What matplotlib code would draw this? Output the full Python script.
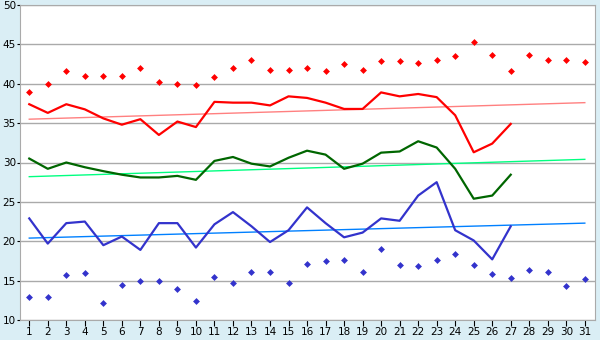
import numpy as np
import matplotlib
matplotlib.use('Agg')
import matplotlib.pyplot as plt

days = list(range(1, 32))

# record highs (diamonds) and highs (line)
red_pts = [38.9, 40.0, 41.6, 41.0, 41.0, 41.0, 42.0, 40.2, 40.0, 39.9,
           40.8, 42.0, 43.0, 41.8, 41.8, 42.0, 41.6, 42.5, 41.8, 42.85,
           42.85, 42.6, 43.0, 43.5, 45.3, 43.7, 41.6, 43.6, 43.0, 43.0, 42.7]
red_line = [37.4, 36.3, 37.4, 36.75, 35.6, 34.8, 35.5, 33.5, 35.2, 34.5,
            37.7, 37.6, 37.6, 37.25, 38.4, 38.2, 37.6, 36.8, 36.8, 38.9,
            38.4, 38.7, 38.3, 36.0, 31.3, 32.4, 34.9]
red_trend = [35.5, 37.6]

green_line = [30.5, 29.2, 30.0, 29.4, 28.9, 28.45, 28.1, 28.1, 28.3, 27.8,
              30.2, 30.7, 29.85, 29.5, 30.6, 31.5, 31.0, 29.2, 29.85, 31.25,
              31.4, 32.7, 31.9, 29.2, 25.4, 25.8, 28.45]
green_trend = [28.2, 30.4]

blue_line = [22.9, 19.7, 22.3, 22.5, 19.5, 20.6, 18.9, 22.3, 22.3, 19.2,
             22.15, 23.7, 21.9, 19.9, 21.4, 24.3, 22.3, 20.5, 21.1, 22.9,
             22.6, 25.8, 27.5, 21.4, 20.1, 17.7, 21.9]
blue_trend = [20.4, 22.3]
blue_pts = [12.9, 12.9, 15.7, 15.95, 12.1, 14.5, 15.0, 15.0, 14.0, 12.4,
            15.4, 14.65, 16.05, 16.05, 14.65, 17.1, 17.45, 17.6, 16.05, 19.0,
            16.95, 16.8, 17.6, 18.35, 16.95, 15.8, 15.3, 16.3, 16.05, 14.3, 15.2]

bg = '#daeef5'
fig = plt.figure(figsize=(6, 3.4), dpi=100, facecolor=bg)
ax = fig.add_axes([20 / 600, 20 / 340, 575 / 600, 315 / 340])
ax.set_facecolor('white')

n = len(red_line)
trend_x = [days[0], days[-1]]

ax.plot(trend_x, red_trend, color='#ff8080', lw=1)
ax.plot(trend_x, green_trend, color='#00ff80', lw=1)
ax.plot(trend_x, blue_trend, color='#0080ff', lw=1)

ax.plot(days[:n], red_line, color='#ff0000', lw=1.6)
ax.plot(days[:n], green_line, color='#006600', lw=1.6)
ax.plot(days[:n], blue_line, color='#3333cc', lw=1.6)

ax.plot(days, red_pts, 'D', color='#ff0000', ms=3.5, mew=0)
ax.plot(days, blue_pts, 'D', color='#3333cc', ms=3.5, mew=0)

ax.set_xlim(0.5, 31.55)
ax.set_ylim(10, 50)
ax.set_xticks(days)
ax.set_yticks(range(10, 51, 5))
ax.grid(axis='y', color='#aaaaaa', lw=1)
ax.set_axisbelow(True)
for s in ax.spines.values():
    s.set_color('#aaaaaa')
ax.tick_params(colors='#000000', labelsize=7.5, pad=1)
ax.tick_params(axis='y', length=2)
ax.tick_params(axis='x', length=4)

fig.savefig('out.png', dpi=100, facecolor=bg)
